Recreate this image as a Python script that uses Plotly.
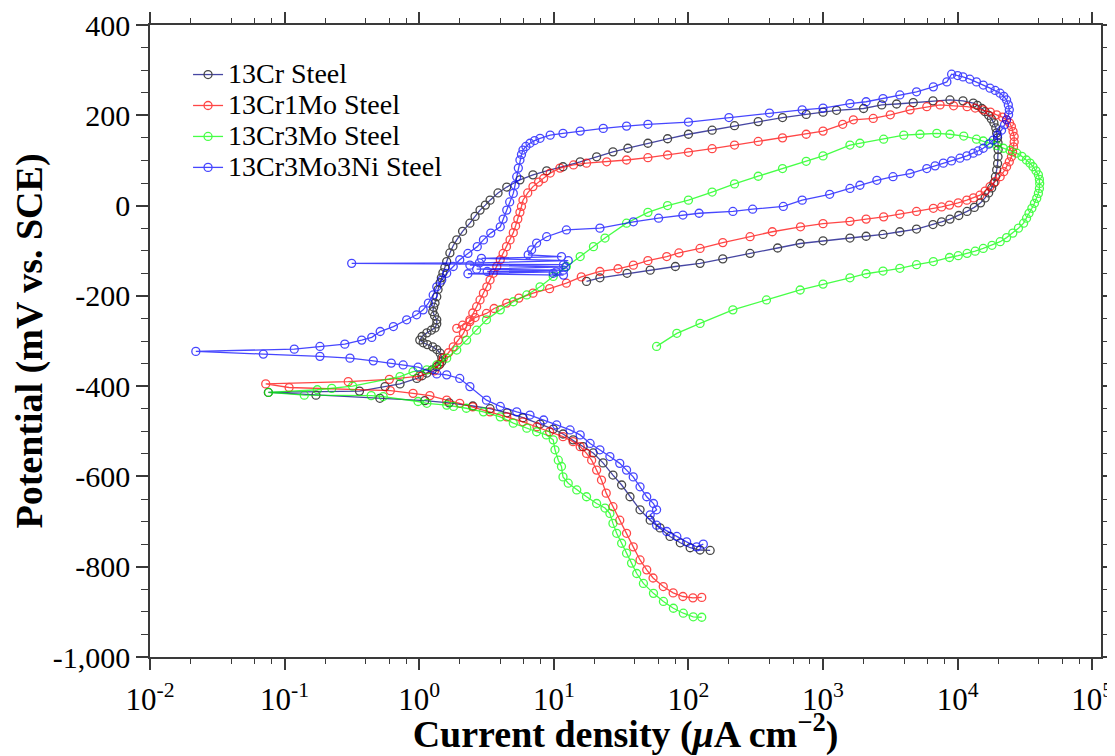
import plotly.graph_objects as go

# ---------------- data: (current density in uA/cm2, potential in mV vs SCE) ----------------
SERIES_NAMES = ["13Cr Steel", "13Cr1Mo Steel", "13Cr3Mo Steel", "13Cr3Mo3Ni Steel"]

cr13_pts = [
    (145, -764), (122, -763), (103, -758), (87, -747), (73, -733), (61.5, -714), (52, -697),
    (43.7, -674), (36.8, -645), (31.9, -619), (27.5, -597), (23.2, -570), (19.6, -548),
    (16.5, -534), (13.9, -519), (11.7, -506), (9.9, -495), (7.9, -484), (5.9, -470), (4.5, -459),
    (3.36, -450), (2.5, -444), (1.67, -437), (1.1, -432), (0.51, -427), (0.171, -420), (0.0757, -414),
    (0.36, -411), (0.557, -401), (0.72, -395), (0.96, -383), (1.05, -377), (1.14, -371), (1.25, -364),
    (1.35, -357), (1.42, -352), (1.47, -346), (1.47, -337), (1.43, -327), (1.35, -319), (1.26, -313),
    (1.15, -308), (1.07, -304), (1.01, -298), (1.05, -290), (1.14, -282), (1.23, -276), (1.31, -271),
    (1.35, -262), (1.35, -253), (1.3, -244), (1.26, -235), (1.28, -225), (1.31, -216), (1.35, -202),
    (1.38, -186), (1.43, -171), (1.46, -160), (1.5, -149), (1.55, -137), (1.6, -124), (1.69, -105),
    (1.78, -90), (1.9, -76), (2.1, -57), (2.38, -39), (2.6, -24), (2.83, -10), (3.1, 1), (3.36, 12),
    (3.85, 28), (4.47, 41), (5.6, 57), (7.0, 68), (8.85, 77), (11.7, 86), (15.7, 97), (20.8, 108),
    (27.5, 119), (35.5, 127), (50, 138), (70, 148), (100, 158), (150, 167), (220, 177), (330, 186),
    (500, 195), (750, 202), (1000, 207), (1260, 211), (2000, 215), (2730, 223), (3520, 225),
    (4680, 228), (6560, 232), (8770, 234), (10960, 232), (13060, 227), (14000, 222), (15140, 215),
    (16000, 208), (17000, 200), (17800, 192), (18600, 183), (19200, 172), (19500, 161), (19800, 150),
    (19950, 139), (20000, 124), (19950, 108), (19800, 93), (19500, 79), (19100, 64), (18600, 50),
    (17900, 39), (17000, 28), (16000, 17), (14800, 6), (13300, -4), (11750, -13), (10200, -22),
    (8770, -30), (7600, -36), (6560, -42), (4950, -52), (3720, -58), (2790, -64), (2090, -68),
    (1585, -72), (1000, -78), (676, -84), (460, -94), (287, -106), (180, -118), (122, -128),
    (80, -135), (52, -143), (35, -150), (22, -160), (17.5, -168),
]

cr13mo1_pts = [
    (125.6, -868), (108, -869), (91, -866), (77, -858), (65, -844), (54.6, -825), (49, -807),
    (43.7, -785), (38.9, -756), (34.7, -726), (30.9, -697), (27.5, -667), (24.5, -637), (22.6, -608),
    (20.8, -586), (19.1, -564), (17.5, -549), (15.7, -534), (13.9, -523), (11.7, -512), (9.3, -501),
    (7.5, -490), (5.9, -479), (4.47, -468), (3.36, -457), (2.5, -446), (2.0, -438), (1.6, -431),
    (1.2, -421), (0.9, -416), (0.61, -410), (0.108, -403), (0.0724, -395),
    (0.297, -390), (0.6, -385), (1.0, -378), (1.3, -366), (1.4, -352), (1.51, -338), (1.65, -326),
    (1.79, -313), (1.95, -298), (2.13, -283), (2.25, -268), (2.38, -253), (2.5, -238), (2.67, -224),
    (2.83, -209), (3.0, -194), (3.18, -180), (3.36, -165), (3.55, -150), (3.77, -135), (4.0, -120),
    (4.2, -106), (4.45, -91), (4.73, -76), (5.0, -60), (5.2, -45), (5.4, -30), (5.6, -15),
    (5.75, -2), (5.9, 12), (6.4, 28), (7.0, 42), (7.7, 52), (8.4, 60), (9.4, 72), (11.1, 83),
    (14, 90), (17.5, 94), (24.7, 97), (34.7, 101), (50, 106), (70, 112), (100, 118), (150, 126),
    (220, 134), (330, 142), (500, 150), (750, 158), (1000, 165), (1400, 180), (1680, 190),
    (2360, 193), (3160, 201), (4430, 212), (5900, 219), (7400, 223), (9330, 221), (11750, 219),
    (13500, 216), (15500, 212), (17500, 207), (19500, 201), (21500, 196), (23100, 190), (24300, 183),
    (25100, 175), (25800, 164), (26300, 153), (26300, 141), (26000, 130), (25600, 119), (25100, 108),
    (24200, 97), (23100, 86), (22000, 75), (20700, 64), (19000, 53), (17400, 42), (16000, 32),
    (14650, 23), (13100, 17), (11700, 12), (10100, 6), (8700, 1), (7600, -3), (6600, -6),
    (4950, -13), (3720, -19), (2820, -25), (2090, -30), (1585, -35), (1000, -40), (680, -47),
    (420, -58), (287, -69), (180, -82), (122, -95), (85, -105), (69, -113), (50, -122), (39, -132),
    (30, -140), (22, -146), (16, -158), (12.4, -172), (9.3, -184), (7.0, -194), (5.5, -205),
    (4.47, -216), (3.6, -228), (3.16, -239), (2.6, -248), (2.38, -257), (2.1, -265), (1.9, -272),
]

cr13mo3_pts = [
    (125.6, -912), (108.6, -911), (91.6, -903), (77.3, -892), (65.2, -877), (55, -859), (46.3, -837),
    (41.3, -815), (37.8, -792), (34.7, -770), (31.9, -748), (29.3, -726), (27.5, -704), (26.1, -682),
    (24, -670), (20.8, -660), (17.5, -645), (14.8, -630), (12.8, -615), (11.7, -601), (11.4, -578),
    (10.8, -564), (10.2, -541), (9.9, -519), (8.8, -508), (7.45, -501), (6.3, -493), (5.0, -482),
    (4.0, -468), (3.0, -457), (2.24, -449), (1.8, -445), (1.6, -442), (1.14, -438), (0.98, -434),
    (0.54, -423), (0.44, -421), (0.14, -420), (0.076, -414),
    (0.175, -408), (0.224, -405), (0.32, -400), (0.72, -379), (0.9, -368), (1.14, -364), (1.35, -353),
    (1.6, -338), (1.9, -320), (2.25, -298), (2.67, -276), (3.16, -253), (4.0, -231), (5.0, -213),
    (6.3, -198), (7.9, -180), (9.9, -157), (12.4, -135), (15.7, -113), (19.7, -91), (24, -72),
    (34.7, -39), (50, -15), (70, 0), (100, 12), (150, 30), (220, 48), (330, 65), (500, 82),
    (750, 98), (1000, 110), (1585, 134), (1880, 138), (2820, 147), (3980, 156), (5250, 158),
    (7000, 160), (8770, 158), (11100, 154), (13800, 147), (15500, 143), (17400, 138), (19500, 133),
    (21900, 127), (24500, 122), (27500, 116), (30000, 109), (32400, 101), (34500, 94), (36300, 86),
    (38200, 77), (39800, 68), (40500, 58), (40700, 49), (40500, 38), (39800, 27), (38700, 16),
    (37200, 5), (35600, -6), (33900, -17), (32500, -28), (30900, -39), (28300, -50), (25700, -61),
    (23100, -71), (20700, -80), (18000, -88), (15500, -95), (13500, -101), (11750, -106),
    (10100, -111), (8700, -115), (6600, -124), (4950, -131), (3720, -139), (2790, -145),
    (2090, -151), (1585, -160), (1000, -174), (676, -187), (380, -209), (214, -231), (122, -261),
    (82, -283), (58, -312),
]

cr13mo3ni3_pts = [
    (129, -750), (115, -756), (97, -745), (82, -733), (69, -722), (58, -708), (52, -685), (58, -674),
    (55, -660), (49, -645), (43.7, -623), (38.9, -601), (34.7, -586), (30.9, -571), (26.1, -556),
    (22, -541), (18.6, -527), (15.7, -508), (13.2, -497), (10.5, -486), (8.4, -475), (6.65, -464),
    (5.3, -457), (4.0, -445), (3.16, -431), (2.38, -401), (2.0, -383), (1.6, -375), (1.35, -373),
    (0.98, -358), (0.76, -353), (0.62, -349), (0.456, -344), (0.306, -338), (0.183, -334),
    (0.0695, -329), (0.0219, -323),
    (0.118, -318), (0.183, -312), (0.28, -307), (0.374, -298), (0.444, -292), (0.513, -279),
    (0.643, -268), (0.807, -253), (0.957, -242), (1.07, -231), (1.17, -216), (1.27, -198),
    (1.35, -180), (1.47, -165), (1.6, -150), (1.79, -135), (2.0, -120), (2.3, -106), (2.7, -91),
    (3.0, -76), (3.4, -61), (4.0, -47), (4.2, -30), (4.47, -10), (4.7, 8), (5.0, 27), (5.15, 45),
    (5.3, 64), (5.45, 83), (5.6, 101), (5.75, 113), (5.9, 123), (6.2, 131), (6.65, 138), (7.2, 144),
    (7.9, 149), (9.4, 156), (11.7, 160), (15.7, 165), (23.3, 171), (34.7, 176), (50, 180),
    (100, 185), (200, 195), (400, 205), (700, 212), (1000, 216), (1585, 226), (2090, 230),
    (2790, 237), (3720, 245), (4950, 252), (6600, 263), (8320, 274), (9020, 291), (10000, 288),
    (10960, 285), (12300, 280), (13800, 274), (15500, 267), (17400, 260), (19000, 255), (20650, 249),
    (22000, 242), (23100, 234), (23800, 223), (24200, 212), (23900, 201), (23100, 190), (22300, 179),
    (21200, 167), (19800, 156), (18400, 145), (17000, 136), (15500, 127), (14200, 121), (13060, 116),
    (11700, 110), (10400, 105), (9000, 99), (7830, 94), (6800, 88), (5900, 82), (4430, 71),
    (3310, 64), (2510, 56), (1880, 45), (1585, 38), (1120, 25), (700, 12), (507, -2), (300, -8),
    (214, -13), (120, -17), (91, -21), (60, -28), (39, -36), (22, -50), (12.4, -54), (8.85, -69),
    (7.45, -83), (6.84, -98), (6.45, -109),
    (11.4, -113), (2.9, -117), (12.8, -122), (2.8, -127), (0.315, -128), (11.8, -131), (2.38, -132),
    (12.2, -136), (2.67, -141), (11.8, -143), (3.2, -146), (10.4, -147), (2.3, -151), (11.8, -154),
    (9.9, -150),
]

SERIES_POINTS = [cr13_pts, cr13mo1_pts, cr13mo3_pts, cr13mo3ni3_pts]
LINE_COLORS = ["#000080", "#ff0000", "#00ff00", "#0000ff"]
MARKER_COLORS = ["#000000", "#ff0000", "#00ff00", "#0000ff"]

X_TICK_VALS = [1e-2, 1e-1, 1e0, 1e1, 1e2, 1e3, 1e4, 1e5]
X_TICK_TEXT = ["10<sup>-2</sup>", "10<sup>-1</sup>", "10<sup>0</sup>", "10<sup>1</sup>",
               "10<sup>2</sup>", "10<sup>3</sup>", "10<sup>4</sup>", "10<sup>5</sup>"]
X_MINOR_VALS = [m * d for d in X_TICK_VALS[:-1] for m in (2, 4, 6, 8)]
Y_TICK_VALS = [400, 200, 0, -200, -400, -600, -800, -1000]
Y_TICK_TEXT = ["400", "200", "0", "-200", "-400", "-600", "-800", "-1,000"]

FONT = "Liberation Serif, Times New Roman, serif"

fig = go.Figure()
for name, pts, lc, mc in zip(SERIES_NAMES, SERIES_POINTS, LINE_COLORS, MARKER_COLORS):
    xs = [p[0] for p in pts]
    ys = [p[1] for p in pts]
    fig.add_trace(go.Scatter(
        x=xs, y=ys, mode="lines+markers",
        name='<span style="font-size:28px">' + name + '</span>',
        line=dict(color=lc, width=1.3),
        marker=dict(symbol="circle-open", size=8, color=mc, line=dict(width=1.3)),
        opacity=0.72,
    ))

axis_common = dict(
    showline=True, linecolor="#3a3a3a", linewidth=1.5, mirror="ticks",
    ticks="outside", tickcolor="#3a3a3a", tickwidth=1.5,
    showgrid=False, zeroline=False, automargin=False,
)

# The page body adds an 8 px offset, so the figure is 8 px smaller and margins 8 px tighter.
fig.update_layout(
    width=1107, height=748,
    margin=dict(l=142, r=14, t=17, b=99),
    paper_bgcolor="white", plot_bgcolor="white",
    font=dict(family=FONT, color="black"),
    showlegend=True,
    legend=dict(x=0.04, y=0.954, xanchor="left", yanchor="top",
                bgcolor="rgba(0,0,0,0)", font=dict(size=21.5, family=FONT, color="black"),
                itemwidth=30, tracegroupgap=0),
    xaxis=dict(
        type="log", range=[-2, 5.065],
        tickmode="array", tickvals=X_TICK_VALS, ticktext=X_TICK_TEXT, ticklen=11,
        ticklabelstandoff=3,
        tickfont=dict(size=31, family=FONT, color="black"),
        minor=dict(tickmode="array", tickvals=X_MINOR_VALS, ticks="outside", ticklen=5,
                   tickwidth=1.2, tickcolor="#3a3a3a"),
        title=dict(text="<b>Current density (<i>μ</i>A cm<sup>−2</sup>)</b>",
                   font=dict(size=38, family=FONT, color="black"), standoff=8),
        **axis_common,
    ),
    yaxis=dict(
        range=[-1000, 400],
        tickmode="array", tickvals=Y_TICK_VALS, ticktext=Y_TICK_TEXT, ticklen=12,
        tickfont=dict(size=30, family=FONT, color="black"),
        minor=dict(dtick=50, ticks="outside", ticklen=7, tickwidth=1.2, tickcolor="#3a3a3a"),
        title=dict(text="<b>Potential (mV vs. SCE)</b>",
                   font=dict(size=38, family=FONT, color="black"), standoff=10),
        **axis_common,
    ),
)

fig.write_html("out.html")
